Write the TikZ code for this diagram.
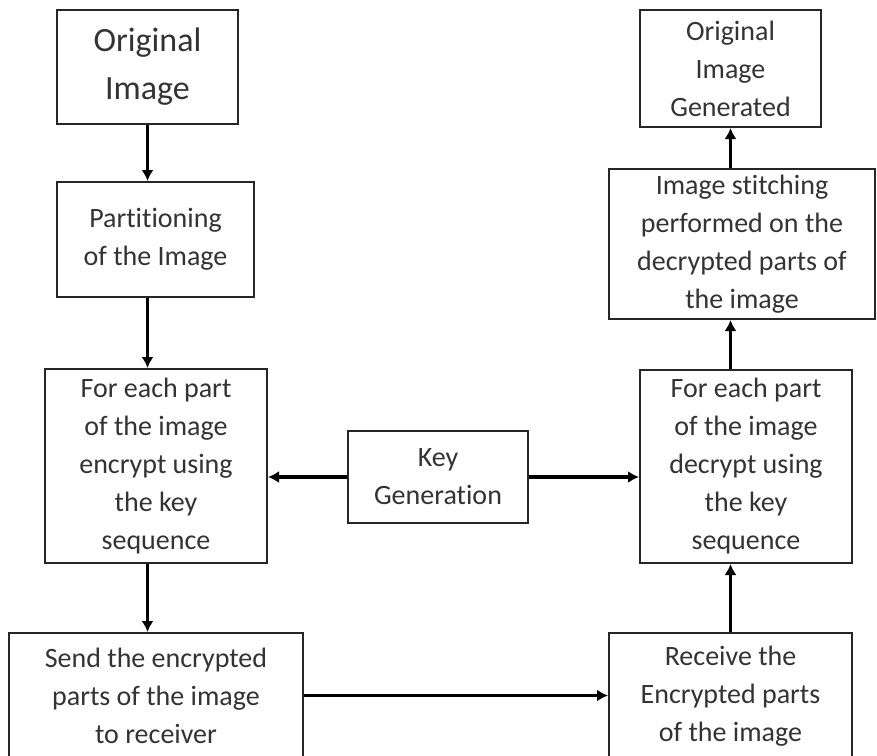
\documentclass[tikz,border=0pt]{standalone}
\usepackage{fontspec}
\setmainfont[Ligatures=NoCommon]{Carlito}
\usetikzlibrary{arrows.meta}
\newcommand\boxfont{\fontsize{28}{38}\selectfont}
\newcommand\bigboxfont{\fontsize{34}{48}\selectfont}

\begin{document}
\begin{tikzpicture}[
    x=1pt,y=-1pt,
    stepbox/.style={draw=black!85,line width=2pt,align=center,inner sep=0pt,text=black!80,font=\boxfont},
    flow/.style={line width=3.5pt,-{Latex[length=11pt,width=12pt]}}
  ]
  \useasboundingbox (0,0) rectangle (877,755);

  % sending side
  \node[stepbox,minimum width=181pt,minimum height=114pt,font=\bigboxfont] (orig) at (147.5,67) {Original\\Image};
  \node[stepbox,minimum width=197pt,minimum height=115pt] (part) at (155.5,239.5) {Partitioning\\of the Image};
  \node[stepbox,minimum width=222pt,minimum height=194pt] (enc) at (156,466) {For each part\\of the image\\encrypt using\\the key\\sequence};
  \node[stepbox,minimum width=294pt,minimum height=125pt] (send) at (156,695.5) {Send the encrypted\\parts of the image\\to receiver};

  % key in the middle
  \node[stepbox,minimum width=180pt,minimum height=92pt] (key) at (438,477) {Key\\Generation};

  % receiving side
  \node[stepbox,minimum width=243pt,minimum height=126pt] (recv) at (730.5,696) {Receive the\\Encrypted parts\\of the image};
  \node[stepbox,minimum width=212pt,minimum height=193pt] (dec) at (746,466.5) {For each part\\of the image\\decrypt using\\the key\\sequence};
  \node[stepbox,minimum width=266pt,minimum height=150pt] (stitch) at (742,244) {Image stitching\\performed on the\\decrypted parts of\\the image};
  \node[stepbox,minimum width=181pt,minimum height=117pt] (gen) at (730.5,68.5) {Original\\Image\\Generated};

  % arrows
  \draw[flow] (orig.south) -- (orig.south |- part.north);
  \draw[flow] (part.south -| orig.south) -- (enc.north -| orig.south);
  \draw[flow] (enc.south -| orig.south) -- (send.north -| orig.south);
  \draw[flow] (key.west) -- (enc.east |- key.west);
  \draw[flow] (key.east) -- (dec.west |- key.east);
  \draw[flow] (send.east) -- (recv.west |- send.east);
  \draw[flow] (recv.north) -- (recv.north |- dec.south);
  \draw[flow] (dec.north -| recv.north) -- (stitch.south -| recv.north);
  \draw[flow] (stitch.north -| gen.south) -- (gen.south);
\end{tikzpicture}
\end{document}
